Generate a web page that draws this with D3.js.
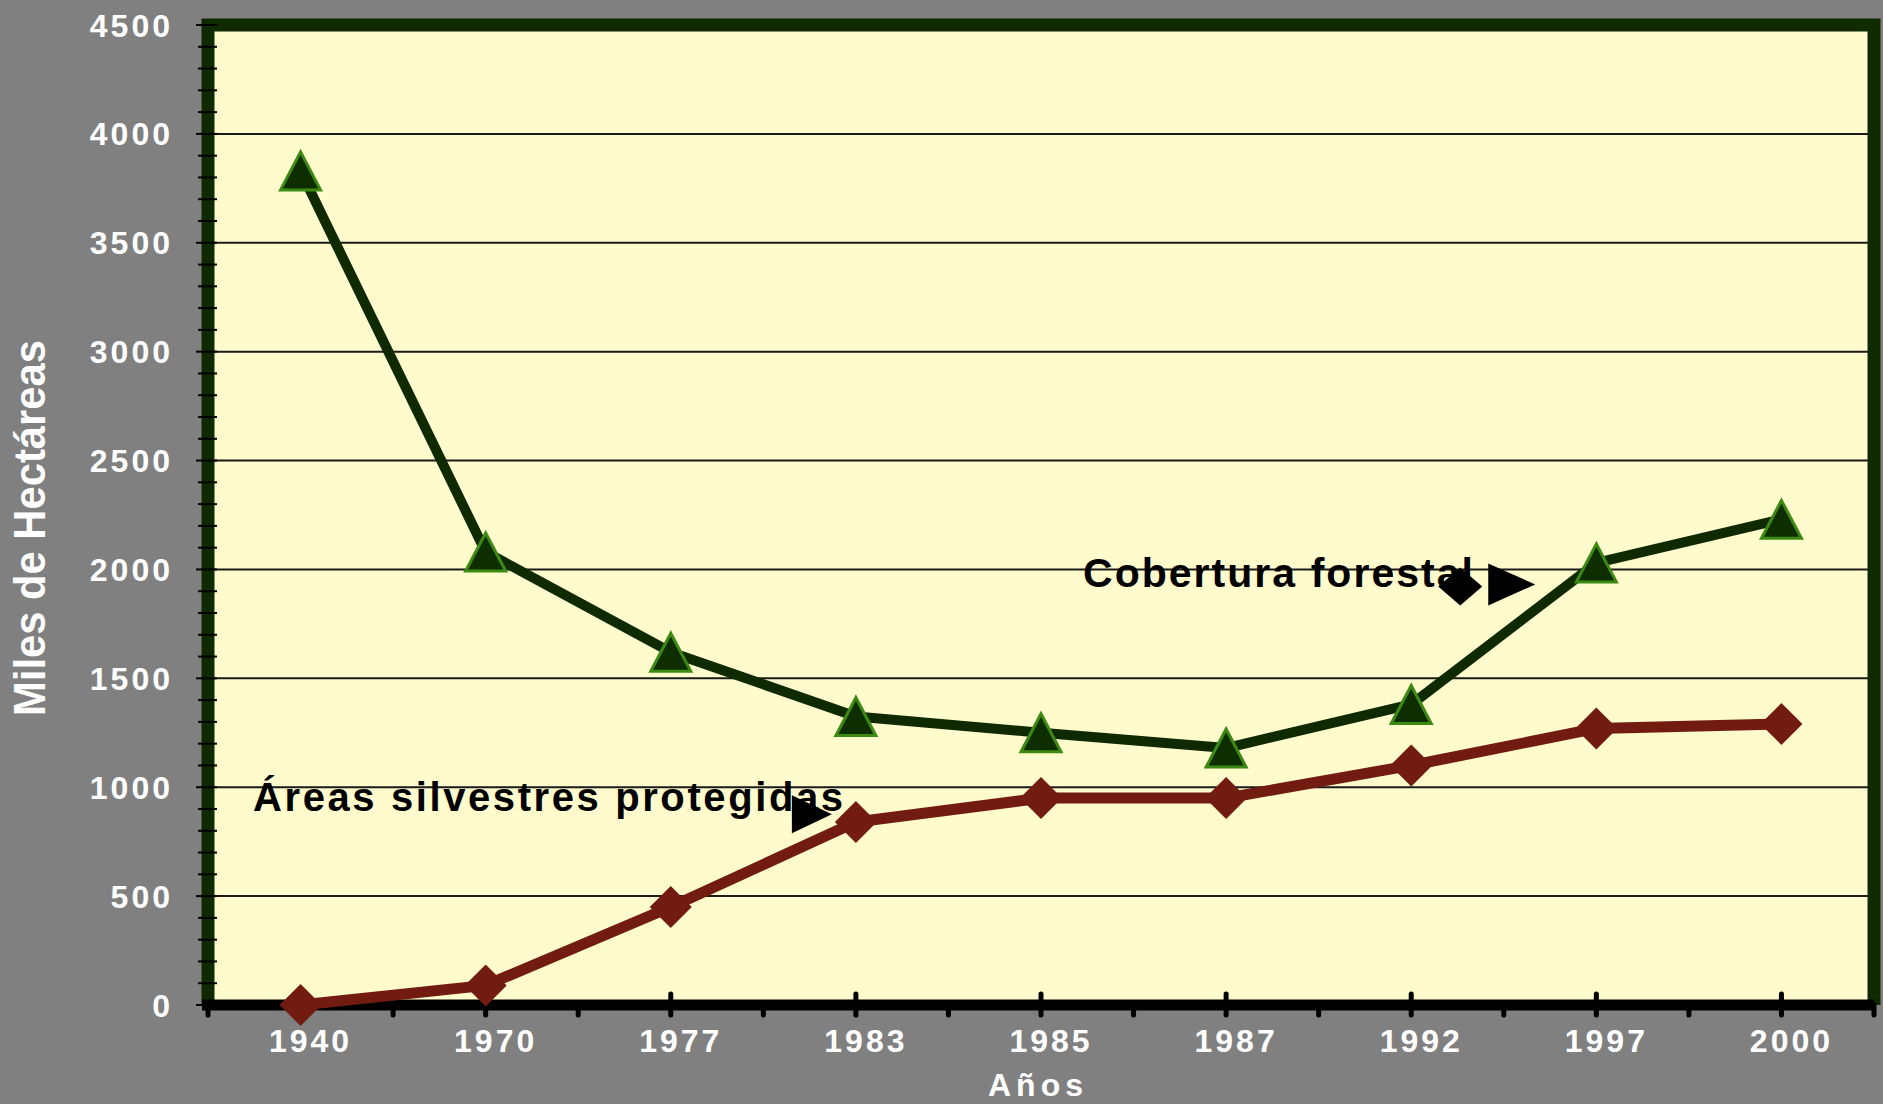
<!DOCTYPE html>
<html>
<head>
<meta charset="utf-8">
<script src="https://cdn.jsdelivr.net/npm/d3@7"></script>
<style>
  body { margin: 0; background: #808080; }
  svg { display: block; font-family: "Liberation Sans", Arial, sans-serif; }
</style>
</head>
<body>
<div id="chart"></div>
<script>
var years = ["1940", "1970", "1977", "1983", "1985", "1987", "1992", "1997", "2000"];
var forestCover = [3830, 2080, 1620, 1325, 1250, 1180, 1380, 2030, 2230];
var protectedAreas = [0, 90, 450, 840, 950, 950, 1100, 1270, 1290];
var yTicks = [0, 500, 1000, 1500, 2000, 2500, 3000, 3500, 4000, 4500];

var W = 1883, H = 1104;
var margin = {top: 25, left: 208, right: 9, bottom: 99},
    width  = W - margin.left - margin.right,
    height = H - margin.top - margin.bottom;

var svg = d3.select("#chart").append("svg")
    .attr("width", W).attr("height", H);

svg.append("rect").attr("width", W).attr("height", H).attr("fill", "#808080");

var g = svg.append("g").attr("transform", "translate(" + margin.left + "," + margin.top + ")");

var x = d3.scalePoint().domain(years).range([0, width]).padding(0.5),
    y = d3.scaleLinear().domain([0, 4500]).range([height, 0]);

var green = "#0f2a00", red = "#711b11";

// plot background
g.append("rect")
  .attr("width", width).attr("height", height)
  .attr("fill", "#fffbcc");

// gridlines
g.selectAll(".grid").data(yTicks.filter(function(d){ return d > 0 && d < 4500; }))
  .enter().append("line")
  .attr("class", "grid")
  .attr("x1", 0).attr("x2", width)
  .attr("y1", function(d){ return y(d); })
  .attr("y2", function(d){ return y(d); })
  .attr("stroke", "#1a1a1a").attr("stroke-width", 2);

// frame (top, right, left in dark green)
g.append("path")
  .attr("d", "M0," + height + "V0H" + width + "V" + height)
  .attr("fill", "none").attr("stroke", green).attr("stroke-width", 13)
  .attr("stroke-linejoin", "miter");

// bottom axis line
g.append("line")
  .attr("x1", -6).attr("x2", width)
  .attr("y1", height).attr("y2", height)
  .attr("stroke", "#000").attr("stroke-width", 11);

// y minor/major ticks
g.selectAll(".ytick").data(d3.range(0, 4501, 100))
  .enter().append("line")
  .attr("class", "ytick")
  .attr("x1", function(d){ return d % 500 === 0 ? -12 : -10; })
  .attr("x2", 9)
  .attr("y1", function(d){ return y(d); })
  .attr("y2", function(d){ return y(d); })
  .attr("stroke", "#000").attr("stroke-width", 2);

// x ticks at every half category
var step = x.step();
g.selectAll(".xtick").data(d3.range(0, years.length * 2 + 1))
  .enter().append("line")
  .attr("class", "xtick")
  .attr("x1", function(d){ return d * step / 2; })
  .attr("x2", function(d){ return d * step / 2; })
  .attr("y1", function(d){ return d % 2 === 1 && d > 3 ? height - 11 : height; })
  .attr("y2", height + 10)
  .attr("stroke", "#000").attr("stroke-width", 5).attr("stroke-linecap", "round");

// y tick labels
g.selectAll(".ylab").data(yTicks).enter().append("text")
  .attr("x", -35).attr("y", function(d){ return y(d); })
  .attr("dy", "0.36em")
  .attr("text-anchor", "end")
  .attr("fill", "#fff").attr("font-weight", "bold")
  .attr("font-size", 32).attr("letter-spacing", 3)
  .text(function(d){ return d; });

// x tick labels
g.selectAll(".xlab").data(years).enter().append("text")
  .attr("x", function(d){ return x(d) + 10; })
  .attr("y", height + 47)
  .attr("text-anchor", "middle")
  .attr("fill", "#fff").attr("font-weight", "bold")
  .attr("font-size", 32).attr("letter-spacing", 3)
  .text(function(d){ return d; });

// axis titles
svg.append("text")
  .attr("transform", "translate(45,528) rotate(-90)")
  .attr("text-anchor", "middle")
  .attr("fill", "#fff").attr("font-weight", "bold")
  .attr("font-size", 44)
  .attr("textLength", 376).attr("lengthAdjust", "spacingAndGlyphs")
  .text("Miles de Hectáreas");

svg.append("text")
  .attr("x", 1038).attr("y", 1096)
  .attr("text-anchor", "middle")
  .attr("fill", "#fff").attr("font-weight", "bold")
  .attr("font-size", 32).attr("letter-spacing", 5)
  .text("Años");

// annotations
g.append("text")
  .attr("x", 1083 - margin.left).attr("y", 587 - margin.top)
  .attr("font-weight", "bold").attr("font-size", 41).attr("fill", "#000")
  .attr("textLength", 390).attr("lengthAdjust", "spacing")
  .text("Cobertura forestal");

g.append("text")
  .attr("x", 253 - margin.left).attr("y", 811 - margin.top)
  .attr("font-weight", "bold").attr("font-size", 40).attr("fill", "#000")
  .attr("textLength", 590).attr("lengthAdjust", "spacing")
  .text("Áreas silvestres protegidas");

// black legend-like markers next to labels
var lab1 = x("1992"), lab2 = x("1983");
g.append("path")
  .attr("d", "M0,-19L22,0L0,19L-22,0Z")
  .attr("transform", "translate(" + (lab1 + 49) + "," + (y(2000) + 17) + ")")
  .attr("fill", "#000");
g.append("path")
  .attr("d", "M0,-21L47,0L0,21Z")
  .attr("transform", "translate(" + (lab1 + 77) + "," + (y(2000) + 15) + ")")
  .attr("fill", "#000");
g.append("path")
  .attr("d", "M0,-19L40,0L0,19Z")
  .attr("transform", "translate(" + (lab2 - 64) + "," + (y(1000) + 27) + ")")
  .attr("fill", "#000");

// lines
var line = d3.line()
  .x(function(d, i){ return x(years[i]); })
  .y(function(d){ return y(d); });

g.append("path").datum(forestCover)
  .attr("fill", "none").attr("stroke", green).attr("stroke-width", 10)
  .attr("stroke-linejoin", "round")
  .attr("d", line);

g.append("path").datum(protectedAreas)
  .attr("fill", "none").attr("stroke", red).attr("stroke-width", 11)
  .attr("stroke-linejoin", "round")
  .attr("d", line);

// markers
g.selectAll(".tri").data(forestCover).enter().append("path")
  .attr("class", "tri")
  .attr("d", "M0,-19L20,19L-20,19Z")
  .attr("transform", function(d, i){ return "translate(" + x(years[i]) + "," + y(d) + ")"; })
  .attr("fill", "#0f2e00").attr("stroke", "#3d8a12").attr("stroke-width", 3)
  .attr("stroke-linejoin", "miter");

g.selectAll(".dia").data(protectedAreas).enter().append("path")
  .attr("class", "dia")
  .attr("d", "M0,-21L21,0L0,21L-21,0Z")
  .attr("transform", function(d, i){ return "translate(" + x(years[i]) + "," + y(d) + ")"; })
  .attr("fill", red);
</script>
</body>
</html>
